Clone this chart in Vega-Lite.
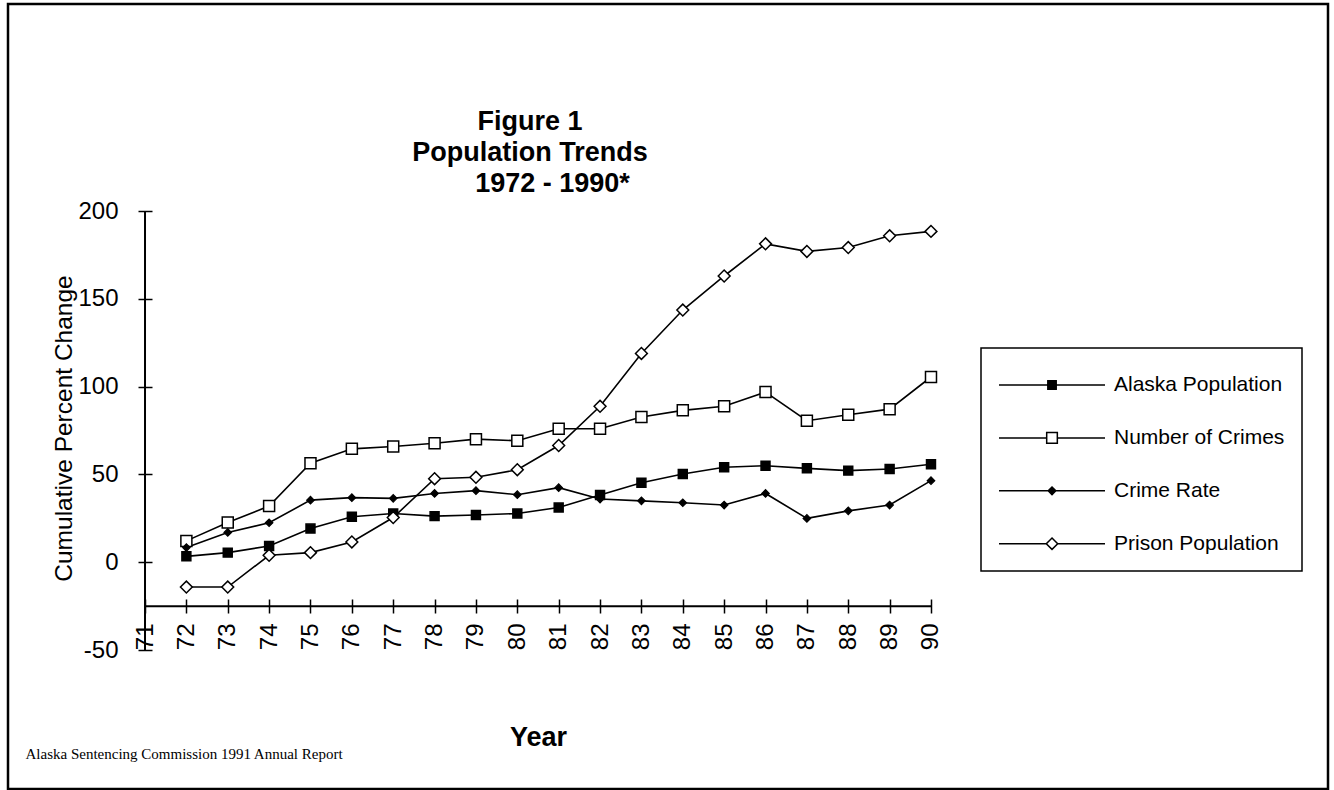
{
  "$schema": "https://vega.github.io/schema/vega-lite/v6.json",
  "width": 1320,
  "height": 785,
  "autosize": {"type": "none"},
  "padding": {"left": 8, "top": 4, "right": 6, "bottom": 1},
  "background": "white",
  "config": {
    "view": {"stroke": "black", "strokeWidth": 2.5},
    "axis": {"grid": false, "labelFont": "Liberation Sans", "titleFont": "Liberation Sans", "labelColor": "black", "titleColor": "black", "tickColor": "black", "domainColor": "black"},
    "legend": {"title": null, "orient": "none", "legendX": 973, "legendY": 344, "strokeColor": "black", "strokeWidth": 1.5, "padding": 17, "fillColor": "white", "symbolSize": 1444, "symbolStrokeWidth": 1.5, "symbolStrokeColor": "black", "symbolOpacity": 1, "labelFont": "Liberation Sans", "labelFontSize": 21, "labelColor": "black", "labelOffset": 76, "labelLimit": 400, "rowPadding": 22.9}
  },
  "title": {
    "text": ["Figure 1", "Population Trends", "\u200b\u00a0\u00a0\u00a0\u00a0\u00a0\u00a01972 - 1990*"],
    "font": "Liberation Sans",
    "fontSize": 27,
    "fontWeight": "bold",
    "lineHeight": 31,
    "color": "black",
    "anchor": "middle",
    "frame": "group",
    "baseline": "top",
    "offset": 0,
    "dx": -138,
    "dy": 194
  },
  "datasets": {
    "trends": [
      {"year": 72, "series": "Alaska Population", "value": 3.4},
      {"year": 73, "series": "Alaska Population", "value": 5.5},
      {"year": 74, "series": "Alaska Population", "value": 9.3},
      {"year": 75, "series": "Alaska Population", "value": 19.2},
      {"year": 76, "series": "Alaska Population", "value": 25.9},
      {"year": 77, "series": "Alaska Population", "value": 27.8},
      {"year": 78, "series": "Alaska Population", "value": 26.3},
      {"year": 79, "series": "Alaska Population", "value": 26.9},
      {"year": 80, "series": "Alaska Population", "value": 27.8},
      {"year": 81, "series": "Alaska Population", "value": 31.2},
      {"year": 82, "series": "Alaska Population", "value": 38.3},
      {"year": 83, "series": "Alaska Population", "value": 45.3},
      {"year": 84, "series": "Alaska Population", "value": 50.3},
      {"year": 85, "series": "Alaska Population", "value": 54.1},
      {"year": 86, "series": "Alaska Population", "value": 55.0},
      {"year": 87, "series": "Alaska Population", "value": 53.5},
      {"year": 88, "series": "Alaska Population", "value": 52.2},
      {"year": 89, "series": "Alaska Population", "value": 53.1},
      {"year": 90, "series": "Alaska Population", "value": 55.8},
      {"year": 72, "series": "Number of Crimes", "value": 12.2},
      {"year": 73, "series": "Number of Crimes", "value": 22.7},
      {"year": 74, "series": "Number of Crimes", "value": 32.0},
      {"year": 75, "series": "Number of Crimes", "value": 56.4},
      {"year": 76, "series": "Number of Crimes", "value": 64.6},
      {"year": 77, "series": "Number of Crimes", "value": 65.9},
      {"year": 78, "series": "Number of Crimes", "value": 67.8},
      {"year": 79, "series": "Number of Crimes", "value": 70.1},
      {"year": 80, "series": "Number of Crimes", "value": 69.2},
      {"year": 81, "series": "Number of Crimes", "value": 76.0},
      {"year": 82, "series": "Number of Crimes", "value": 76.0},
      {"year": 83, "series": "Number of Crimes", "value": 82.7},
      {"year": 84, "series": "Number of Crimes", "value": 86.5},
      {"year": 85, "series": "Number of Crimes", "value": 88.8},
      {"year": 86, "series": "Number of Crimes", "value": 96.9},
      {"year": 87, "series": "Number of Crimes", "value": 80.6},
      {"year": 88, "series": "Number of Crimes", "value": 84.0},
      {"year": 89, "series": "Number of Crimes", "value": 87.2},
      {"year": 90, "series": "Number of Crimes", "value": 105.5},
      {"year": 72, "series": "Crime Rate", "value": 8.4},
      {"year": 73, "series": "Crime Rate", "value": 17.0},
      {"year": 74, "series": "Crime Rate", "value": 22.5},
      {"year": 75, "series": "Crime Rate", "value": 35.4},
      {"year": 76, "series": "Crime Rate", "value": 36.8},
      {"year": 77, "series": "Crime Rate", "value": 36.4},
      {"year": 78, "series": "Crime Rate", "value": 39.2},
      {"year": 79, "series": "Crime Rate", "value": 40.8},
      {"year": 80, "series": "Crime Rate", "value": 38.5},
      {"year": 81, "series": "Crime Rate", "value": 42.5},
      {"year": 82, "series": "Crime Rate", "value": 36.0},
      {"year": 83, "series": "Crime Rate", "value": 35.0},
      {"year": 84, "series": "Crime Rate", "value": 33.9},
      {"year": 85, "series": "Crime Rate", "value": 32.6},
      {"year": 86, "series": "Crime Rate", "value": 39.2},
      {"year": 87, "series": "Crime Rate", "value": 25.0},
      {"year": 88, "series": "Crime Rate", "value": 29.3},
      {"year": 89, "series": "Crime Rate", "value": 32.6},
      {"year": 90, "series": "Crime Rate", "value": 46.5},
      {"year": 72, "series": "Prison Population", "value": -14.1},
      {"year": 73, "series": "Prison Population", "value": -14.1},
      {"year": 74, "series": "Prison Population", "value": 4.0},
      {"year": 75, "series": "Prison Population", "value": 5.5},
      {"year": 76, "series": "Prison Population", "value": 11.6},
      {"year": 77, "series": "Prison Population", "value": 25.5},
      {"year": 78, "series": "Prison Population", "value": 47.6},
      {"year": 79, "series": "Prison Population", "value": 48.4},
      {"year": 80, "series": "Prison Population", "value": 52.7},
      {"year": 81, "series": "Prison Population", "value": 66.5},
      {"year": 82, "series": "Prison Population", "value": 88.8},
      {"year": 83, "series": "Prison Population", "value": 118.9},
      {"year": 84, "series": "Prison Population", "value": 143.6},
      {"year": 85, "series": "Prison Population", "value": 163.0},
      {"year": 86, "series": "Prison Population", "value": 181.3},
      {"year": 87, "series": "Prison Population", "value": 177.0},
      {"year": 88, "series": "Prison Population", "value": 179.2},
      {"year": 89, "series": "Prison Population", "value": 185.9},
      {"year": 90, "series": "Prison Population", "value": 188.4}
    ]
  },
  "data": {"name": "trends"},
  "resolve": {"axis": {"x": "independent", "y": "shared"}},
  "layer": [
    {
      "mark": {"type": "line", "strokeWidth": 1.6, "color": "black"},
      "encoding": {
        "detail": {"field": "series", "type": "nominal"},
        "x": {
          "field": "year", "type": "quantitative",
          "scale": {"domain": [67.688, 99.597], "nice": false, "zero": false},
          "axis": {
            "orient": "bottom", "offset": -190, "values": [71,72,73,74,75,76,77,78,79,80,81,82,83,84,85,86,87,88,89,90],
            "format": "d", "domain": false, "tickSize": 14, "tickWidth": 1.5,
            "labelAngle": -90, "labelFontSize": 24, "labelPadding": 10, "labelOverlap": false, "labelFlush": false, "labelBound": false,
            "title": "Year", "titleFontSize": 27, "titleFontWeight": "bold", "titleX": 530, "titleY": 146, "titleBaseline": "alphabetic", "titleAlign": "center"
          }
        },
        "y": {
          "field": "value", "type": "quantitative",
          "scale": {"domain": [-129.06, 317.85], "nice": false, "zero": false},
          "axis": {
            "orient": "left", "offset": -144, "values": [-50, 0, 50, 100, 150, 200],
            "labelExpr": "'' + datum.value",
            "domain": false, "tickSize": 14, "tickWidth": 1.5,
            "labelFontSize": 24, "labelPadding": 20,
            "title": "Cumulative Percent Change", "titleFontSize": 24.5, "titleFontWeight": "normal",
            "titleX": -81, "titleY": 424, "titleAngle": -90, "titleBaseline": "alphabetic", "titleAlign": "center"
          }
        }
      }
    },
    {
      "data": {"values": [{}]},
      "mark": {"type": "rule", "stroke": "black", "strokeWidth": 2},
      "encoding": {
        "x": {"datum": 71, "type": "quantitative", "scale": {"domain": [67.688, 99.597], "nice": false, "zero": false}, "axis": null},
        "y": {"datum": -50, "type": "quantitative", "scale": {"domain": [-129.06, 317.85], "nice": false, "zero": false}},
        "y2": {"datum": 200}
      }
    },
    {
      "data": {"values": [{}]},
      "mark": {"type": "rule", "stroke": "black", "strokeWidth": 2},
      "encoding": {
        "x": {"datum": 71, "type": "quantitative", "scale": {"domain": [67.688, 99.597], "nice": false, "zero": false}, "axis": null},
        "x2": {"datum": 90},
        "y": {"datum": -25, "type": "quantitative", "scale": {"domain": [-129.06, 317.85], "nice": false, "zero": false}}
      }
    },
    {
      "mark": {"type": "point", "opacity": 0, "strokeWidth": 1.5},
      "encoding": {
        "x": {"field": "year", "type": "quantitative", "scale": {"domain": [67.688, 99.597], "nice": false, "zero": false}, "axis": null},
        "y": {"field": "value", "type": "quantitative", "scale": {"domain": [-129.06, 317.85], "nice": false, "zero": false}},
        "shape": {
          "field": "series", "type": "nominal",
          "scale": {"domain": ["Alaska Population", "Number of Crimes", "Crime Rate", "Prison Population"], "range": [
            "M-1,0H1.57M2.01,0H4.58M1.57,-0.22H2.01V0.22H1.57Z",
            "M-1,0H1.51M2.07,0H4.58M1.51,-0.28H2.07V0.28H1.51Z",
            "M-1,0H1.59M1.99,0H4.58M1.79,-0.2L1.99,0L1.79,0.2L1.59,0Z",
            "M-1,0H1.49M2.09,0H4.58M1.79,-0.3L2.09,0L1.79,0.3L1.49,0Z"
          ]},
          "legend": {"title": null}
        },
        "fill": {
          "field": "series", "type": "nominal",
          "scale": {"domain": ["Alaska Population", "Number of Crimes", "Crime Rate", "Prison Population"], "range": ["black", "white", "black", "white"]},
          "legend": {"title": null}
        },
        "stroke": {
          "field": "series", "type": "nominal",
          "scale": {"domain": ["Alaska Population", "Number of Crimes", "Crime Rate", "Prison Population"], "range": ["black", "black", "black", "black"]},
          "legend": {"title": null}
        }
      }
    },
    {
      "transform": [{"filter": "datum.series === 'Alaska Population'"}],
      "mark": {"type": "point", "shape": "square", "size": 80, "fill": "black", "stroke": "black", "strokeWidth": 1.5, "opacity": 1},
      "encoding": {
        "x": {
          "field": "year", "type": "quantitative",
          "scale": {"domain": [67.688, 99.597], "nice": false, "zero": false},
          "axis": {
            "orient": "top", "labels": false, "ticks": false, "domain": false,
            "title": "Alaska Sentencing Commission 1991 Annual Report",
            "titleFont": "Liberation Serif", "titleFontSize": 15, "titleFontWeight": "normal",
            "titleX": 17, "titleY": 754, "titleAlign": "left", "titleBaseline": "alphabetic"
          }
        },
        "y": {"field": "value", "type": "quantitative", "scale": {"domain": [-129.06, 317.85], "nice": false, "zero": false}}
      }
    },
    {
      "transform": [{"filter": "datum.series === 'Number of Crimes'"}],
      "mark": {"type": "point", "shape": "square", "size": 121, "fill": "white", "stroke": "black", "strokeWidth": 1.5, "opacity": 1},
      "encoding": {
        "x": {"field": "year", "type": "quantitative", "scale": {"domain": [67.688, 99.597], "nice": false, "zero": false}, "axis": null},
        "y": {"field": "value", "type": "quantitative", "scale": {"domain": [-129.06, 317.85], "nice": false, "zero": false}}
      }
    },
    {
      "transform": [{"filter": "datum.series === 'Crime Rate'"}],
      "mark": {"type": "point", "shape": "diamond", "size": 56, "fill": "black", "stroke": "black", "strokeWidth": 1.2, "opacity": 1},
      "encoding": {
        "x": {"field": "year", "type": "quantitative", "scale": {"domain": [67.688, 99.597], "nice": false, "zero": false}, "axis": null},
        "y": {"field": "value", "type": "quantitative", "scale": {"domain": [-129.06, 317.85], "nice": false, "zero": false}}
      }
    },
    {
      "transform": [{"filter": "datum.series === 'Prison Population'"}],
      "mark": {"type": "point", "shape": "diamond", "size": 140, "fill": "white", "stroke": "black", "strokeWidth": 1.5, "opacity": 1},
      "encoding": {
        "x": {"field": "year", "type": "quantitative", "scale": {"domain": [67.688, 99.597], "nice": false, "zero": false}, "axis": null},
        "y": {"field": "value", "type": "quantitative", "scale": {"domain": [-129.06, 317.85], "nice": false, "zero": false}}
      }
    }
  ]
}
